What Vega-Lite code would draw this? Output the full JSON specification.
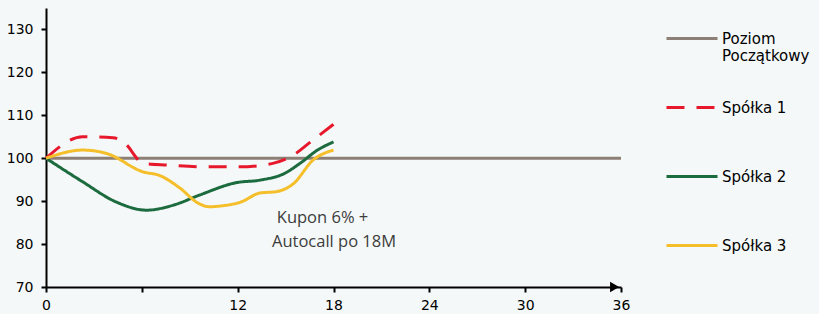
{
  "$schema": "https://vega.github.io/schema/vega-lite/v6.json",
  "width": 575,
  "height": 279,
  "autosize": {"type": "none"},
  "padding": {"left": 46, "top": 8, "right": 198, "bottom": 27},
  "background": "#f4f8f8",
  "config": {"view": {"stroke": null}, "font": "DejaVu Sans"},
  "datasets": {
    "lines": [
      {"series": "Poziom Początkowy", "m": 0, "v": 100},
      {"series": "Poziom Początkowy", "m": 36, "v": 100},
      {"series": "Spółka 1", "m": 0, "v": 100},
      {"series": "Spółka 1", "m": 2.3, "v": 105},
      {"series": "Spółka 1", "m": 4.2, "v": 104.8},
      {"series": "Spółka 1", "m": 4.9, "v": 103.6},
      {"series": "Spółka 1", "m": 6.1, "v": 98.8},
      {"series": "Spółka 1", "m": 7.6, "v": 98.4},
      {"series": "Spółka 1", "m": 10.1, "v": 98.0},
      {"series": "Spółka 1", "m": 12.1, "v": 98.0},
      {"series": "Spółka 1", "m": 14.2, "v": 98.8},
      {"series": "Spółka 1", "m": 15.3, "v": 100.3},
      {"series": "Spółka 1", "m": 16.7, "v": 104.2},
      {"series": "Spółka 1", "m": 18, "v": 107.9},
      {"series": "Spółka 2", "m": 0, "v": 100},
      {"series": "Spółka 2", "m": 2.3, "v": 94.5},
      {"series": "Spółka 2", "m": 4.4, "v": 89.8},
      {"series": "Spółka 2", "m": 6.3, "v": 87.9},
      {"series": "Spółka 2", "m": 8.0, "v": 89.1},
      {"series": "Spółka 2", "m": 9.6, "v": 91.4},
      {"series": "Spółka 2", "m": 11.9, "v": 94.3},
      {"series": "Spółka 2", "m": 13.4, "v": 94.9},
      {"series": "Spółka 2", "m": 14.9, "v": 96.4},
      {"series": "Spółka 2", "m": 15.9, "v": 98.8},
      {"series": "Spółka 2", "m": 17.0, "v": 101.9},
      {"series": "Spółka 2", "m": 18, "v": 103.8},
      {"series": "Spółka 3", "m": 0, "v": 100},
      {"series": "Spółka 3", "m": 2.3, "v": 101.9},
      {"series": "Spółka 3", "m": 3.8, "v": 101.1},
      {"series": "Spółka 3", "m": 6.1, "v": 96.8},
      {"series": "Spółka 3", "m": 7.1, "v": 96.0},
      {"series": "Spółka 3", "m": 8.4, "v": 93.0},
      {"series": "Spółka 3", "m": 9.5, "v": 89.6},
      {"series": "Spółka 3", "m": 10.2, "v": 88.7},
      {"series": "Spółka 3", "m": 11.0, "v": 88.9},
      {"series": "Spółka 3", "m": 12.2, "v": 89.8},
      {"series": "Spółka 3", "m": 13.4, "v": 91.9},
      {"series": "Spółka 3", "m": 14.4, "v": 92.2},
      {"series": "Spółka 3", "m": 15.5, "v": 94.1},
      {"series": "Spółka 3", "m": 16.7, "v": 99.5},
      {"series": "Spółka 3", "m": 18, "v": 101.9}
    ],
    "arrow": [{"m": 35.6, "v": 70}],
    "notes": [
      {"m": 14.45, "v": 86.0, "label": "Kupon 6% +"},
      {"m": 14.15, "v": 80.5, "label": "Autocall po 18M"}
    ]
  },
  "layer": [
    {
      "data": {"name": "lines"},
      "mark": {"type": "line", "interpolate": "monotone", "strokeWidth": 3},
      "encoding": {
        "x": {
          "field": "m", "type": "quantitative",
          "scale": {"domain": [0, 36], "nice": false},
          "axis": {
            "values": [0, 6, 12, 18, 24, 30, 36],
            "labelExpr": "datum.value == 6 ? '' : datum.label",
            "grid": false, "title": null,
            "domainColor": "black", "domainWidth": 2,
            "tickColor": "black", "tickWidth": 2, "tickSize": 5,
            "labelFontSize": 14, "labelColor": "black",
            "labelPadding": 6, "labelFlush": false
          }
        },
        "y": {
          "field": "v", "type": "quantitative",
          "scale": {"domain": [70, 135], "nice": false, "zero": false},
          "axis": {
            "values": [70, 80, 90, 100, 110, 120, 130],
            "grid": false, "title": null,
            "domainColor": "black", "domainWidth": 2,
            "tickColor": "black", "tickWidth": 2, "tickSize": 5,
            "labelFontSize": 14, "labelColor": "black",
            "labelPadding": 8
          }
        },
        "color": {
          "field": "series", "type": "nominal",
          "scale": {
            "domain": ["Poziom Początkowy", "Spółka 1", "Spółka 2", "Spółka 3"],
            "range": ["#8c7f75", "#e8182c", "#1b6b3f", "#f4bf2a"]
          },
          "legend": {
            "orient": "none", "legendX": 619, "legendY": 3.5,
            "title": null, "padding": 0,
            "symbolType": "stroke", "symbolSize": 2601, "symbolStrokeWidth": 3,
            "labelFontSize": 15, "labelColor": "black",
            "labelLineHeight": 17,
            "labelExpr": "datum.label == 'Poziom Początkowy' ? ['Poziom', 'Początkowy'] : datum.label",
            "labelBaseline": "alphabetic", "labelOffset": 3, "rowPadding": 17,
            "gridAlign": "all",
            "encode": {"labels": {"update": {"dy": {"value": 5}}}}
          }
        },
        "strokeDash": {
          "field": "series", "type": "nominal",
          "scale": {
            "domain": ["Poziom Początkowy", "Spółka 1", "Spółka 2", "Spółka 3"],
            "range": [[1, 0], [18, 12], [1, 0], [1, 0]]
          },
          "legend": null
        }
      }
    },
    {
      "data": {"name": "arrow"},
      "mark": {"type": "point", "shape": "triangle-right", "filled": true, "color": "black", "opacity": 1, "size": 110},
      "encoding": {
        "x": {"field": "m", "type": "quantitative"},
        "y": {"field": "v", "type": "quantitative"}
      }
    },
    {
      "data": {"name": "notes"},
      "mark": {"type": "text", "align": "left", "baseline": "middle", "fontSize": 16.5, "font": "Open Sans", "color": "#3c3c3c"},
      "encoding": {
        "x": {"field": "m", "type": "quantitative"},
        "y": {"field": "v", "type": "quantitative"},
        "text": {"field": "label"}
      }
    }
  ]
}
